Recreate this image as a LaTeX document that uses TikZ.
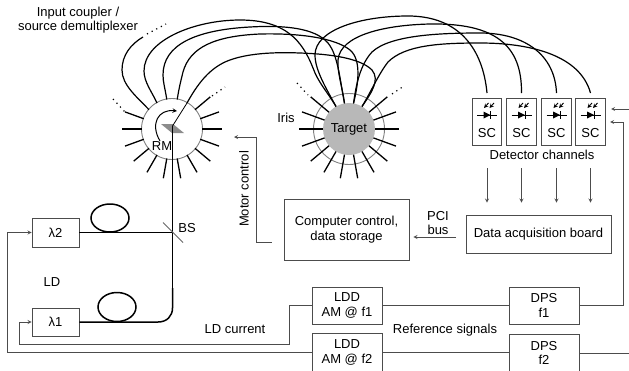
\documentclass[tikz,border=0pt]{standalone}
\usepackage{fontspec}
\setmainfont{Liberation Sans}
\usetikzlibrary{calc}
\tikzset{
  fibre/.style={line width=1.2pt},
  laserfibre/.style={line width=1.5pt},
  spoke/.style={line width=1.3pt},
  wire/.style={draw=black!70,line width=.8pt},
  tinydots/.style={line width=1.2pt,dash pattern=on 1.2pt off 4pt},
  ring/.style={draw=black!50,line width=.9pt,circle,inner sep=0pt},
  box/.style={draw=black!70,line width=.8pt,align=center,inner sep=0pt},
  scbox/.style={box,minimum width=29.5pt,minimum height=47pt},
  photodiode/.pic={
    \draw[line width=.7pt] (-10,0) -- (10,0);
    \fill (-3.5,-3.5) -- (3.5,0) -- (-3.5,3.5) -- cycle;
    \draw[line width=1pt] (3.5,-4) -- (3.5,4);
    \draw[line width=.9pt,->] (1.5,-12) -- (-3,-7);
    \draw[line width=.9pt,->] (7,-12) -- (2.5,-7);
  }
}
\begin{document}
\begin{tikzpicture}[x=1pt,y=-1pt,>=stealth,font=\fontsize{13}{14.5}\selectfont]
    \useasboundingbox (0,0) rectangle (629,370);
    % rotating mirror side
    \node[ring,minimum size=61pt] (rm) at (172,129) {};
    \foreach \a in {0,20,...,340} {
      \coordinate (rm\a) at ($(rm)+(-\a:30)$);
    }
    \foreach \a in {0,20,40,160,180,200,...,340} {
      \draw[spoke] (rm\a) -- ($(rm)+(-\a:50)$);
    }
    \fill[black!45] (161,124) -- (173,124) -- (184,133) -- (172,133) -- cycle;
    \node (rmlabel) at (162,146) {RM};
    \draw[line width=1pt,->] (160,141) .. controls (150,124) and (158,109) .. (177,111);
    % target side
    \node[ring,minimum size=71pt] (iris) at (349,129) {};
    \node[circle,fill=black!28,minimum size=52pt,inner sep=0pt] (target) at (349,129) {Target};
    \foreach \a in {0,20,...,340} {
      \coordinate (tg\a) at ($(target)+(-\a:26)$);
    }
    \foreach \a in {0,20,40,140,160,180,200,...,340} {
      \draw[spoke] (tg\a) -- ($(target)+(-\a:50)$);
    }
    \node (irislabel) at (286,118) {Iris};
    \node[align=center] (coupler) at (78,20) {Input coupler /\\source demultiplexer};
    % the dots
    \coordinate (rmdota) at (113,99);
    \coordinate (rmdotb) at (125,112);
    \coordinate (rmdotc) at (212,96);
    \coordinate (rmdotd) at (225,87);
    \coordinate (freea) at (147,34);
    \coordinate (freeb) at (166,24);
    \coordinate (tgdota) at (297,83);
    \coordinate (tgdotb) at (308,95);
    \coordinate (tgdotc) at (392,94);
    \coordinate (tgdotd) at (404,86);
    \draw[tinydots] (rmdota) -- (rmdotb);
    \draw[tinydots] (rmdotc) -- (rmdotd);
    \draw[tinydots] (freea) -- (freeb);
    \draw[tinydots] (tgdota) -- (tgdotb);
    \draw[tinydots] (tgdotc) -- (tgdotd);
    % detectors
    \foreach \i/\x in {1/487,2/521.5,3/556.5,4/590.5} {
      \node[scbox] (sc\i) at (\x,121.5) {};
      \node (sclabel\i) at (\x,133) {SC};
      \pic at (\x,115) {photodiode};
      \coordinate (sctop\i) at (\x,93);
      \coordinate (chan\i) at (\x,168);
    }
    \node (channels) at (542,155) {Detector channels};
    % fibres in
    \draw[fibre] (rm140) .. controls (137,97) and (122,85) .. (122,70) .. controls (122,55) and (131,44) .. (143,37);
    \draw[fibre] (rm120) .. controls (152,92) and (144,82) .. (144,71) .. controls (144,40) and (195,20) .. (240,20)
      .. controls (285,20) and (302,40) .. (313,68) .. controls (318,82) and (326,90) .. (tg120);
    \draw[fibre] (rm100) .. controls (165,88) and (163,82) .. (163,75) .. controls (163,45) and (195,30) .. (250,27)
      .. controls (285,25) and (315,28) .. (328,43) .. controls (338,55) and (340,80) .. (tg100);
    \draw[fibre] (rm80) .. controls (179,88) and (181,80) .. (183,72) .. controls (190,47) and (215,36) .. (260,34)
      .. controls (300,33) and (335,38) .. (350,50) .. controls (362,60) and (358,85) .. (tg80);
    \draw[fibre] (rm60) .. controls (197,85) and (208,70) .. (225,62) .. controls (245,53) and (275,52) .. (300,53)
      .. controls (330,54) and (360,58) .. (372,70) .. controls (380,80) and (372,92) .. (tg60);
    % fibres out
    \draw[fibre] (tg120) .. controls (326,88) and (315,70) .. (315,55) .. controls (315,30) and (360,16) .. (408,16)
      .. controls (460,16) and (483,50) .. (sctop1);
    \draw[fibre] (tg100) .. controls (343,90) and (337,72) .. (338,60) .. controls (340,35) and (385,25) .. (430,24)
      .. controls (495,23) and (522,45) .. (sctop2);
    \draw[fibre] (tg80) .. controls (356,85) and (360,65) .. (372,52) .. controls (390,35) and (440,33) .. (480,33)
      .. controls (525,33) and (555,55) .. (sctop3);
    \draw[fibre] (tg60) .. controls (372,90) and (378,75) .. (388,62) .. controls (405,45) and (440,43) .. (480,43)
      .. controls (530,43) and (580,55) .. (sctop4);
    % laser sources
    \node[box,minimum width=47pt,minimum height=29pt] (la2) at (55.5,232.5) {λ2};
    \node[box,minimum width=47pt,minimum height=28pt] (la1) at (55.5,322) {λ1};
    \node (ldlabel) at (52,282) {LD};
    \coordinate (mirror) at (172.5,126);
    \coordinate (bs) at (172.5,232.5);
    \coordinate (thicka) at (136,232.5);
    \coordinate (thickb) at (172.5,288);
    \draw[laserfibre] (110,218) ellipse (19 and 14);
    \draw[laserfibre] (117,307) ellipse (19 and 14.5);
    \draw[laserfibre] (la2.east) -- (thicka);
    \draw[laserfibre] (la1.east) -- (158,322) .. controls (167,322) and (172.5,316) .. (172.5,308) -- (thickb);
    \draw[line width=.8pt] (thicka) -- (bs);
    \draw[line width=.8pt] (thickb) -- (bs) -- (mirror) -- (rm60);
    \draw[black!60,line width=.9pt] (163,222.5) -- (183,242.5);
    \node (bslabel) at (187,228) {BS};
    % control boxes
    \node[box,minimum width=125pt,minimum height=61pt] (comp) at (346.5,229.5) {Computer control,\\data storage};
    \node[box,minimum width=145pt,minimum height=38pt] (daq) at (538.5,234) {Data acquisition board};
    \node[box,minimum width=70pt,minimum height=37pt] (lddone) at (347,305.5) {LDD\\AM @ f1};
    \node[box,minimum width=70pt,minimum height=39pt] (lddtwo) at (347,352.5) {LDD\\AM @ f2};
    \node[box,minimum width=70pt,minimum height=37pt] (dpsone) at (544,305.5) {DPS\\f1};
    \node[box,minimum width=70pt,minimum height=38pt] (dpstwo) at (544,353) {DPS\\f2};
    \foreach \i in {1,2,3,4} {
      \draw[wire,->,shorten >=12pt] (chan\i) -- (chan\i |- daq.north);
    }
    \node (pcilabel) at (438,216) {PCI};
    \node (buslabel) at (438,230) {bus};
    \coordinate (pci) at (456,237);
    \draw[wire,->,shorten >=4pt] (pci) -- (comp.east |- pci);
    \coordinate (motor) at (234,137);
    \draw[wire,->,shorten <=12pt] ([yshift=-12.5pt]comp.west) -| (256,137) -- (motor);
    \node[rotate=90] (motorlabel) at (244,189) {Motor control};
    % current and reference lines
    \draw[wire,->] (lddone.west) -| (289,344) -| (19,322) -- (la1.west);
    \draw[wire,->] (lddtwo.west) -| (7,232.5) -- (la2.west);
    \draw[wire] (lddone.east) -- (dpsone.west |- lddone.east);
    \draw[wire] (lddtwo.east) -- (dpstwo.west |- lddtwo.east);
    \coordinate (scref) at (610,122);
    \coordinate (scfree) at (629,109);
    \coordinate (scin) at (611,109);
    \coordinate (dpsfree) at (629,353);
    \draw[wire,->] (dpsone.east) -| (623,122) -- (scref);
    \draw[wire,->] (scfree) -- (scin);
    \draw[wire] (dpstwo.east) -- (dpsfree);
    \node (ldcurrent) at (235,329) {LD current};
    \node (reflabel) at (445,330) {Reference signals};
  \end{tikzpicture}
\end{document}
